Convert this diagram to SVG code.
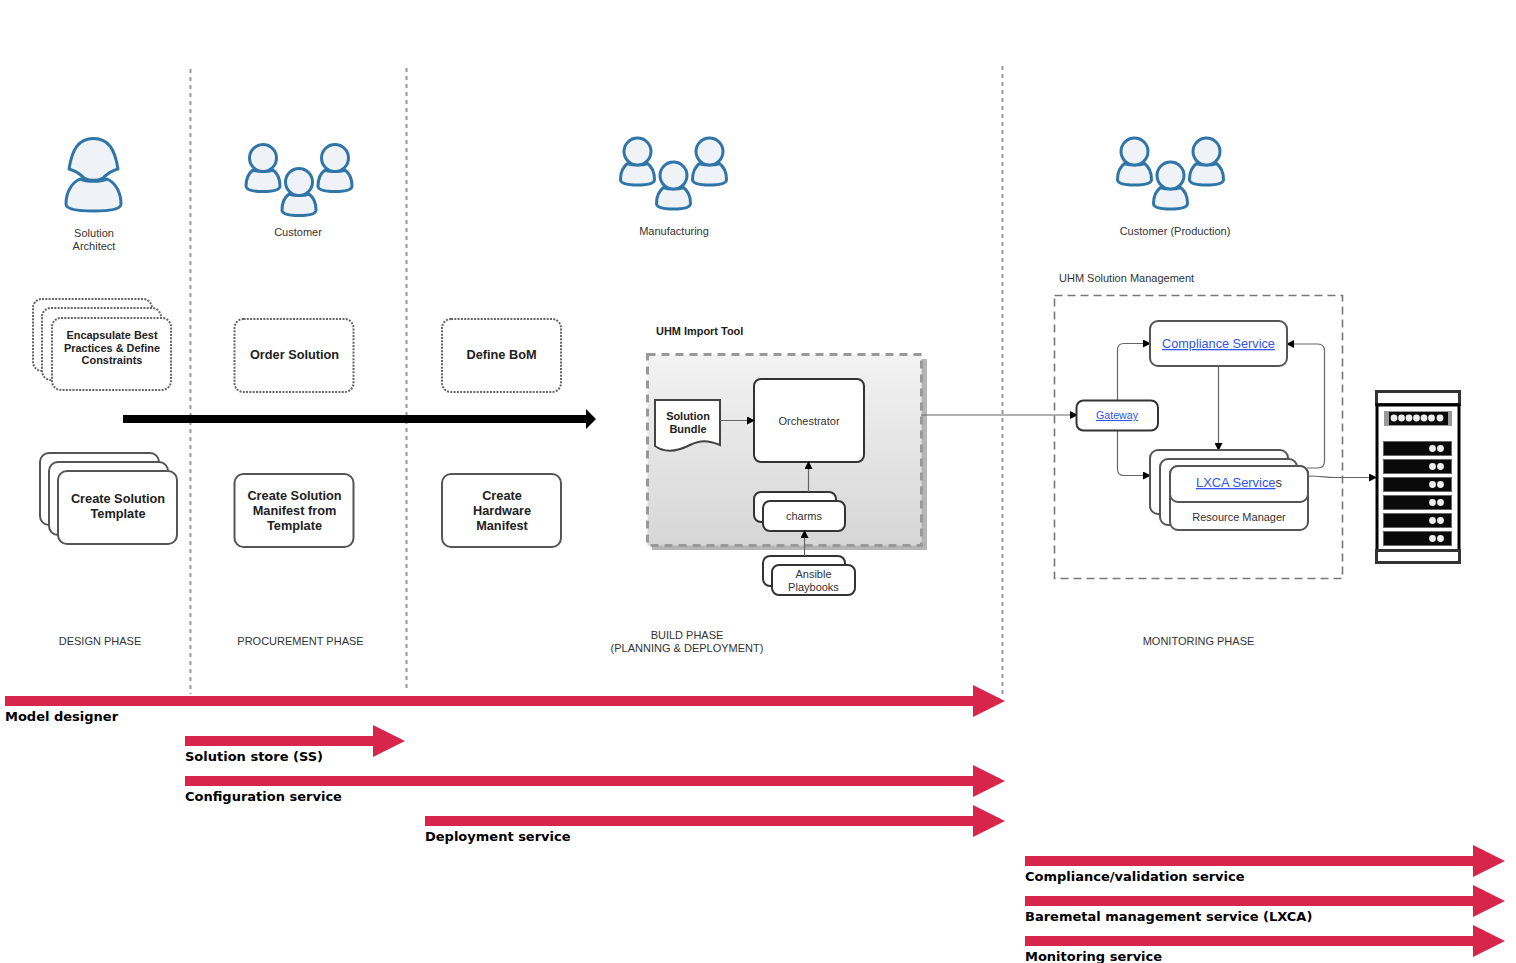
<svg xmlns="http://www.w3.org/2000/svg" width="1516" height="963" viewBox="0 0 1516 963">
<style>
text{font-family:"Liberation Sans",Arial,sans-serif;fill:#333;text-anchor:middle}
.s{font-size:11px}
.b{font-size:12.750px;font-weight:bold;fill:#222}
.b2{font-size:10.950px;font-weight:bold;fill:#222}
.lnk{fill:#3355ee;text-decoration:underline}
.box{fill:#fff;stroke:#555;stroke-width:2}
.dk{fill:#fff;stroke:#333;stroke-width:2}
.dot{fill:#fff;stroke:#666;stroke-width:2;stroke-dasharray:2 1.3}
.div{fill:none;stroke:#999;stroke-width:2;stroke-dasharray:4 4}
.con{fill:none;stroke:#666;stroke-width:1.2}
.tag{font-family:"DejaVu Sans",sans-serif;font-size:13px;font-weight:bold;fill:#000;text-anchor:start}
.red{fill:#d7254b}
.icon{fill:#eff3f8;stroke:#2f75a8;stroke-width:3;stroke-linejoin:round}
.blk{fill:#0a0a0a;stroke:#666;stroke-width:1}
.led{fill:#eee}
</style>
<defs>
<marker id="ah" markerWidth="8" markerHeight="8" refX="7" refY="4" orient="auto" markerUnits="userSpaceOnUse"><path d="M0,0L8,4L0,8Z" fill="#000"/></marker>
<g id="p"><path d="M-10,-9C-14,-6 -17,0 -17,7C-17,11 -10,12.500 0,12.500C10,12.500 17,11 17,7C17,0 14,-6 10,-9C5,-7 -5,-7 -10,-9Z"/><circle cx="0" cy="-21" r="13.500"/></g>
<g id="trio" class="icon"><use href="#p" x="-36" y="0"/><use href="#p" x="36" y="0"/><use href="#p" x="0" y="24"/></g>
<linearGradient id="g" x1="0" y1="0" x2="0" y2="1"><stop offset="0" stop-color="#f3f3f3"/><stop offset="1" stop-color="#d6d6d6"/></linearGradient>
</defs>

<g id="dividers">
<path class="div" d="M190.500,69V694"/>
<path class="div" d="M406.500,68V692"/>
<path class="div" d="M1002.500,66V694"/>
</g>

<g id="actor-architect"><g class="icon"><path d="M80,179C71,183 66,193 66,204C66,209 76,211 93.500,211C111,211 121,209 121,204C121,193 116,183 107,179C100,182 87,182 80,179Z"/><path d="M69,169C72,150 78,138.500 93.500,138.500C109,138.500 115,150 118,169C110,171 106,175 103,178C97,181 90,181 84,178C81,175 77,171 69,169Z"/></g>
<text class="s" x="94" y="237">Solution</text><text class="s" x="94" y="250">Architect</text></g>
<g id="actor-customer"><use href="#trio" x="299" y="179"/><text class="s" x="298" y="236">Customer</text></g>
<g id="actor-manufacturing"><use href="#trio" x="673.500" y="172.500"/><text class="s" x="674" y="235">Manufacturing</text></g>
<g id="actor-production"><use href="#trio" x="1170.500" y="172.500"/><text class="s" x="1175" y="235">Customer (Production)</text></g>

<g id="n-encapsulate">
<rect class="dot" x="33" y="299" width="119" height="72" rx="9"/>
<rect class="dot" x="42" y="308" width="119" height="72" rx="9"/>
<rect class="dot" x="52" y="318" width="119" height="72" rx="9"/>
<text class="b2" x="112" y="339">Encapsulate Best</text><text class="b2" x="112" y="352">Practices &amp; Define</text><text class="b2" x="112" y="364">Constraints</text></g>
<g id="n-order"><rect class="dot" x="234.500" y="319" width="119" height="73" rx="9"/><text class="b" x="294.500" y="359">Order Solution</text></g>
<g id="n-bom"><rect class="dot" x="442" y="319" width="119" height="73" rx="9"/><text class="b" x="501.500" y="359">Define BoM</text></g>

<g id="n-template">
<rect class="box" x="40" y="453" width="119" height="72" rx="9"/>
<rect class="box" x="49" y="462" width="119" height="73" rx="9"/>
<rect class="box" x="58" y="471" width="119" height="73" rx="9"/>
<text class="b" x="118" y="503">Create Solution</text><text class="b" x="118" y="518">Template</text></g>
<g id="n-manifest"><rect class="box" x="234.500" y="474" width="119" height="73" rx="9"/><text class="b" x="294.500" y="500">Create Solution</text><text class="b" x="294.500" y="515">Manifest from</text><text class="b" x="294.500" y="530">Template</text></g>
<g id="n-hardware"><rect class="box" x="442" y="474" width="119" height="73" rx="9"/><text class="b" x="502" y="500">Create</text><text class="b" x="502" y="515">Hardware</text><text class="b" x="502" y="530">Manifest</text></g>

<g id="flow-arrow"><path d="M123,415H586V409L596,419L586,429V423H123Z" fill="#000"/></g>

<g id="n-import-tool">
<text class="b2" x="656" y="335" style="text-anchor:start">UHM Import Tool</text>
<rect x="652" y="359" width="275" height="191" fill="#b5b5b5"/>
<rect x="647.500" y="354.500" width="274" height="191" fill="url(#g)" stroke="#999" stroke-width="3" stroke-dasharray="8 6"/>
</g>

<g id="n-bundle"><path d="M655,400H720V445C708,440 700,440 690,445C680,450 666,454 655,446Z" fill="#fff" stroke="#444" stroke-width="2"/><text class="b2" x="688" y="420">Solution</text><text class="b2" x="688" y="433">Bundle</text></g>
<g id="n-orchestrator"><rect class="dk" x="754" y="379" width="110" height="83" rx="7"/><text class="s" x="809" y="425">Orchestrator</text></g>
<g id="n-charms"><rect class="dk" x="754" y="492" width="82" height="30" rx="7"/><rect class="dk" x="763" y="501" width="82" height="30" rx="7"/><text class="s" x="804" y="520">charms</text></g>
<g id="n-ansible"><rect class="dk" x="763" y="556" width="82" height="30" rx="7"/><rect class="dk" x="772" y="565" width="83" height="30" rx="7"/><text class="s" x="813.500" y="578">Ansible</text><text class="s" x="813.500" y="591">Playbooks</text></g>

<g id="n-management">
<text class="s" x="1059" y="282" style="text-anchor:start">UHM Solution Management</text>
<rect x="1054.500" y="295.500" width="288" height="283" fill="none" stroke="#777" stroke-width="1.600" stroke-dasharray="8 5"/>
</g>
<g id="connectors">
<path class="con" d="M720,420.500H754" marker-end="url(#ah)"/>
<path class="con" d="M808.500,492V462" marker-end="url(#ah)"/>
<path class="con" d="M804.500,556V531" marker-end="url(#ah)"/>
<path class="con" d="M921,415H1077" marker-end="url(#ah)"/>
<path class="con" d="M1117.500,400V350Q1117.500,343.500 1124,343.500H1150" marker-end="url(#ah)"/>
<path class="con" d="M1117.500,430V469Q1117.500,475.500 1124,475.500H1150" marker-end="url(#ah)"/>
<path class="con" d="M1218.500,366V450" marker-end="url(#ah)"/>
<path class="con" d="M1307,468H1318Q1324.500,468 1324.500,461V351Q1324.500,344 1318,344H1287" marker-end="url(#ah)"/>
<path class="con" d="M1308,476C1322,476 1325,477.500 1335,477.500H1376" marker-end="url(#ah)"/>
</g>
<g id="n-gateway"><rect class="dk" x="1076.500" y="400.500" width="81.500" height="30" rx="7"/><text class="lnk" x="1117" y="419" style="font-size:10.700px">Gateway</text></g>
<g id="n-compliance"><rect class="box" x="1150" y="321" width="137" height="45" rx="8"/><text class="lnk" x="1218.500" y="348" style="font-size:12.700px">Compliance Service</text></g>
<g id="n-lxca">
<rect class="box" x="1150" y="450" width="138" height="64" rx="8"/>
<rect class="box" x="1160" y="459" width="137" height="66" rx="8"/>
<rect class="box" x="1170" y="466" width="138" height="64" rx="8"/>
<rect class="box" x="1170" y="466" width="138" height="36" rx="8"/>
<text x="1239" y="487" style="font-size:12.900px"><tspan class="lnk">LXCA Service</tspan>s</text>
<text class="s" x="1239" y="521">Resource Manager</text></g>

<g id="n-rack">
<rect x="1376.500" y="391.500" width="83" height="13" fill="#fff" stroke="#333" stroke-width="3"/>
<rect x="1377" y="405" width="82" height="146" fill="#fff" stroke="#000" stroke-width="3"/>
<rect x="1376.500" y="550.500" width="83" height="12" fill="#fff" stroke="#333" stroke-width="3"/>
<rect x="1384" y="411" width="68" height="15" fill="#999"/><rect x="1389" y="412" width="59" height="13" fill="#0a0a0a"/>
<g class="led"><circle cx="1394" cy="418" r="3.400"/><circle cx="1401.500" cy="418" r="3.400"/><circle cx="1409" cy="418" r="3.400"/><circle cx="1416.500" cy="418" r="3.400"/><circle cx="1424" cy="418" r="3.400"/><circle cx="1431.500" cy="418" r="3.400"/><circle cx="1440" cy="418" r="3.400"/></g>
<rect class="blk" x="1383.500" y="441.500" width="68" height="14"/><rect class="blk" x="1383.500" y="459.500" width="68" height="14"/><rect class="blk" x="1383.500" y="477.500" width="68" height="14"/><rect class="blk" x="1383.500" y="495.500" width="68" height="14"/><rect class="blk" x="1383.500" y="513.500" width="68" height="14"/><rect class="blk" x="1383.500" y="531.500" width="68" height="14"/>
<g class="led"><circle cx="1432.500" cy="448.500" r="3.400"/><circle cx="1440.500" cy="448.500" r="3.400"/><circle cx="1432.500" cy="466.500" r="3.400"/><circle cx="1440.500" cy="466.500" r="3.400"/><circle cx="1432.500" cy="484.500" r="3.400"/><circle cx="1440.500" cy="484.500" r="3.400"/><circle cx="1432.500" cy="502.500" r="3.400"/><circle cx="1440.500" cy="502.500" r="3.400"/><circle cx="1432.500" cy="520.500" r="3.400"/><circle cx="1440.500" cy="520.500" r="3.400"/><circle cx="1432.500" cy="538.500" r="3.400"/><circle cx="1440.500" cy="538.500" r="3.400"/></g>
</g>

<g id="phase-labels">
<text class="s" x="100" y="645">DESIGN PHASE</text>
<text class="s" x="300.500" y="645">PROCUREMENT PHASE</text>
<text class="s" x="687" y="639">BUILD PHASE</text><text class="s" x="687" y="652">(PLANNING &amp; DEPLOYMENT)</text>
<text class="s" x="1198.500" y="645">MONITORING PHASE</text>
</g>

<g id="timeline">
<path class="red" d="M5,696H973V685L1005,701L973,717V706H5Z"/>
<path class="red" d="M185,736H373V725L405,741L373,757V746H185Z"/>
<path class="red" d="M185,776H973V765L1005,781L973,797V786H185Z"/>
<path class="red" d="M425,816H973V805L1005,821L973,837V826H425Z"/>
<path class="red" d="M1025,856H1473V845L1505,861L1473,877V866H1025Z"/>
<path class="red" d="M1025,896H1473V885L1505,901L1473,917V906H1025Z"/>
<path class="red" d="M1025,936H1473V925L1505,941L1473,957V946H1025Z"/>
<text class="tag" x="5" y="721">Model designer</text>
<text class="tag" x="185" y="761">Solution store (SS)</text>
<text class="tag" x="185" y="801">Configuration service</text>
<text class="tag" x="425" y="841">Deployment service</text>
<text class="tag" x="1025" y="881">Compliance/validation service</text>
<text class="tag" x="1025" y="921">Baremetal management service (LXCA)</text>
<text class="tag" x="1025" y="961">Monitoring service</text>
</g>
</svg>
